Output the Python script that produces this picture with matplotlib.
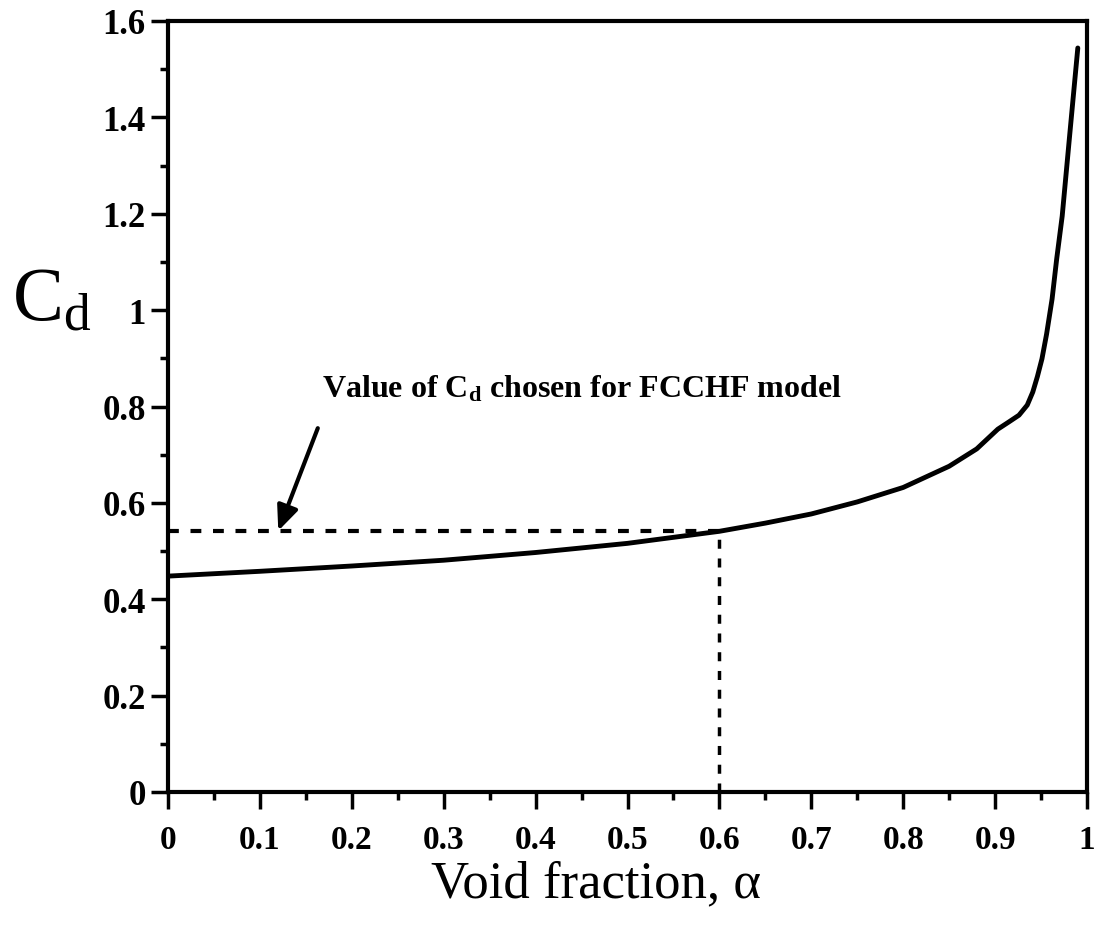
import matplotlib
matplotlib.use('Agg')
import matplotlib.pyplot as plt
import numpy as np

plt.rcParams['font.family'] = ['Liberation Serif', 'DejaVu Serif']
plt.rcParams['mathtext.default'] = 'regular'

# curve
alpha = [0.0, 0.1, 0.2, 0.3, 0.4, 0.5, 0.6, 0.65, 0.7, 0.75, 0.8, 0.85, 0.88,
         0.903, 0.915, 0.926, 0.935, 0.941, 0.946, 0.951, 0.956, 0.962, 0.967, 0.973, 0.981, 0.99]
cd = [0.448, 0.458, 0.469, 0.481, 0.497, 0.516, 0.541, 0.558, 0.577, 0.602, 0.632, 0.676, 0.712,
      0.753, 0.768, 0.782, 0.803, 0.830, 0.862, 0.899, 0.950, 1.023, 1.106, 1.195, 1.36, 1.544]

chosen_alpha = 0.6
chosen_cd = 0.542

x_ticks = [0, 0.1, 0.2, 0.3, 0.4, 0.5, 0.6, 0.7, 0.8, 0.9, 1.0]
x_labels = ['0', '0.1', '0.2', '0.3', '0.4', '0.5', '0.6', '0.7', '0.8', '0.9', '1']
y_ticks = [0, 0.2, 0.4, 0.6, 0.8, 1.0, 1.2, 1.4, 1.6]
y_labels = ['0', '0.2', '0.4', '0.6', '0.8', '1', '1.2', '1.4', '1.6']

fig = plt.figure(figsize=(11.09, 9.29), dpi=100)
ax = fig.add_axes([168/1109, 1-793/929, (1087-168)/1109, (793-22)/929])

ax.plot(alpha, cd, color='black', lw=3.5, solid_capstyle='round',
        solid_joinstyle='round', zorder=3)

# dashed guide lines for the chosen value
dash = (2.6, 2.8)
ax.plot([0, chosen_alpha], [chosen_cd, chosen_cd], color='black', lw=3,
        linestyle=(0, dash), dash_capstyle='butt', zorder=2)
ax.plot([chosen_alpha, chosen_alpha], [0, chosen_cd], color='black', lw=2.5,
        linestyle=(0, dash), dash_capstyle='butt', zorder=2)

ax.annotate('', xy=(0.12, chosen_cd), xytext=(0.163, 0.755),
            arrowprops=dict(arrowstyle='-|>,head_length=1.5,head_width=0.65',
                            color='black', lw=3, shrinkA=0, shrinkB=0))
ax.text(0.168, 0.82, 'Value of C$_{d}$ chosen for FCCHF model', fontsize=23,
        fontweight='bold', ha='left', va='baseline')

ax.set_xlim(0, 1)
ax.set_ylim(0, 1.6)
ax.set_xticks(x_ticks)
ax.set_xticklabels(x_labels)
ax.set_yticks(y_ticks)
ax.set_yticklabels(y_labels)
ax.set_xticks(np.arange(0.05, 1.0, 0.1), minor=True)
ax.set_yticks(np.arange(0.1, 1.6, 0.2), minor=True)
ax.tick_params(which='major', direction='out', length=12, width=2.5, labelsize=25, pad=4)
ax.tick_params(axis='x', which='major', pad=11, labelsize=24)
ax.tick_params(which='minor', direction='out', length=6, width=2.5)
for lab in ax.get_xticklabels() + ax.get_yticklabels():
    lab.set_fontweight('bold')

for side in ['left', 'bottom', 'top', 'right']:
    ax.spines[side].set_linewidth(3)

fig.text(596/1109, 1-897/929, 'Void fraction, α', fontsize=38, ha='center', va='baseline')
fig.text(12/1109, 1-320/929, 'C$_{d}$', fontsize=55, ha='left', va='baseline')

fig.savefig('out.png', dpi=100)
